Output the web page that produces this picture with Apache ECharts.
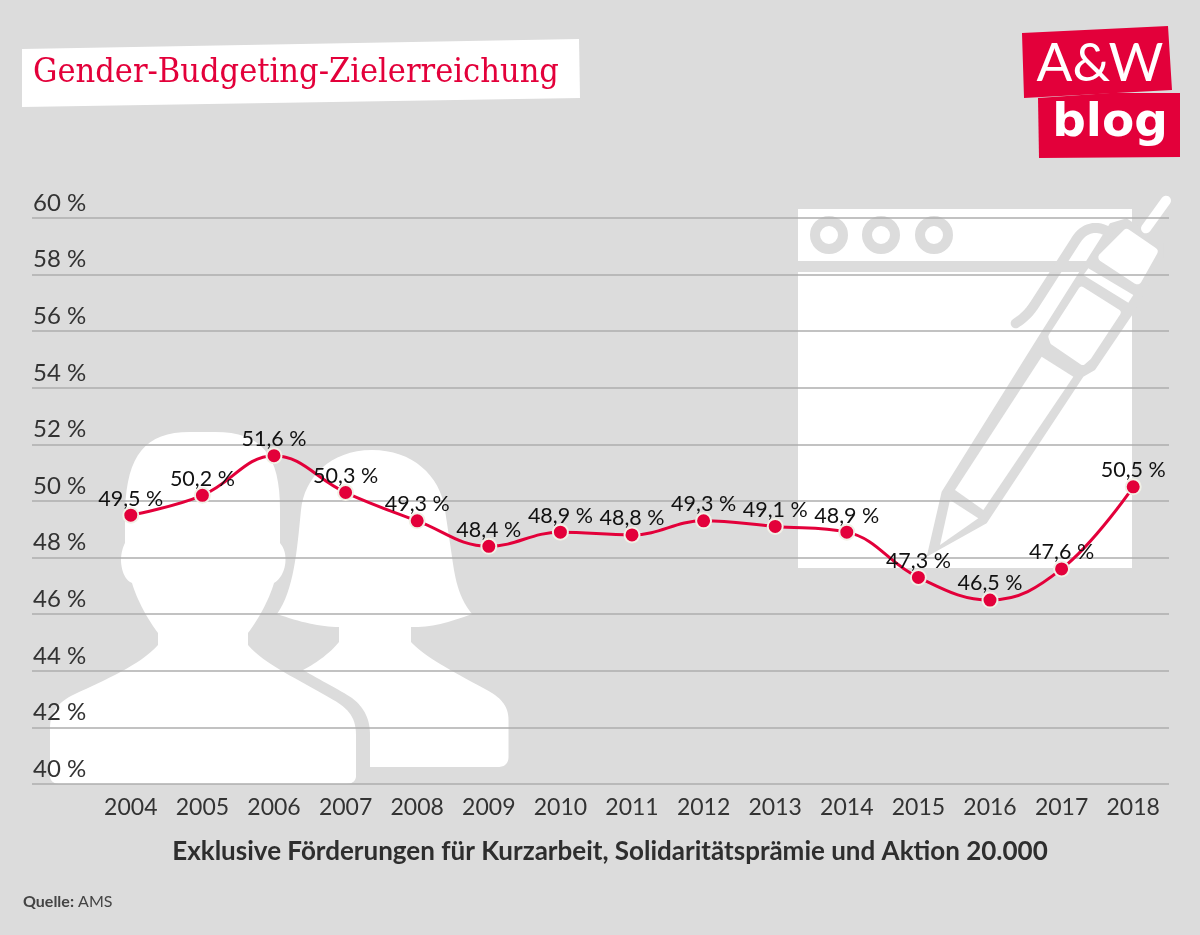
<!DOCTYPE html>
<html>
<head>
<meta charset="utf-8">
<title>Gender-Budgeting-Zielerreichung</title>
<style>
  html, body { margin: 0; padding: 0; background: #dcdcdc; }
  #chart { width: 1200px; height: 935px; }
</style>
<script src="https://cdn.jsdelivr.net/npm/echarts@6/dist/echarts.min.js"></script>
</head>
<body>
<div id="chart"></div>
<script>
const years = ['2004', '2005', '2006', '2007', '2008', '2009', '2010', '2011', '2012', '2013', '2014', '2015', '2016', '2017', '2018'];
const shares = [49.5, 50.2, 51.6, 50.3, 49.3, 48.4, 48.9, 48.8, 49.3, 49.1, 48.9, 47.3, 46.5, 47.6, 50.5];

const BG = '#dcdcdc';
const RED = '#e3003a';
const FONT = 'Lato, "Noto Sans", sans-serif';

// Pfad aus M/L/C in Punkte fuer ein Polygon aufloesen
const flatten = d => {
  const t = d.trim().split(/\s+/);
  const pts = [];
  let i = 0, cmd = 'M';
  while (i < t.length) {
    if (/[MLC]/.test(t[i])) cmd = t[i++];
    if (cmd === 'C') {
      const [x0, y0] = pts[pts.length - 1];
      const [x1, y1, x2, y2, x3, y3] = t.slice(i, i + 6).map(Number);
      i += 6;
      for (let s = 1; s <= 16; s++) {
        const u = s / 16, v = 1 - u;
        pts.push([
          v*v*v*x0 + 3*v*v*u*x1 + 3*v*u*u*x2 + u*u*u*x3,
          v*v*v*y0 + 3*v*v*u*y1 + 3*v*u*u*y2 + u*u*u*y3
        ]);
      }
    } else {
      pts.push([Number(t[i]), Number(t[i + 1])]);
      i += 2;
    }
  }
  return pts;
};

// Hintergrund-Icons, Koordinaten in Pixel
const male = flatten(`M 50 776 L 50 728 C 50 712 58 702 75 694 C 105 680 140 665 158 645 L 158 633
  C 148 620 137 600 132 583 C 124 580 121 568 121 560 C 121 553 123 547 125 543 L 125 510
  C 127 455 145 432 190 432 L 215 432 C 262 432 280 455 280 510 L 280 543 C 284 548 285.5 553 285.5 560
  C 285.5 570 280 580 274 583 C 269 600 258 620 248 633 L 248 645 C 265 665 300 680 330 698
  C 346 707 356 715 356 735 L 356 776 C 356 781 352 784 346 784 L 60 784 C 54 784 50 781 50 776`);
const female = flatten(`M 372 450 C 330 450 304 478 301 510 C 297 550 294 590 277 614 C 300 622 320 627 339 627
  L 339 642 C 330 653 318 662 303 670 C 320 680 340 690 352 698 C 365 708 370 720 370 735 L 370 767 L 498 767
  C 505 767 508.5 763 508.5 757 L 508.5 720 C 508.5 705 500 697 485 689 C 450 670 425 657 411 642 L 411 627
  C 430 628 450 622 472 614 C 456 595 454 570 451 550 L 445 510 C 440 475 412 450 372 450`);

// Stift im Ausschnitt-Massstab (3x) gezeichnet
const pen = [
  { type: 'polygon', shape: { points: [[440,1130],[485,935],[775,470],[990,130],[1040,115],[1150,190],[1150,235],[1060,400],[945,570],[910,590],[620,1030]] }, style: { fill: BG }, z: -1 },
  { type: 'polyline', shape: { points: flatten('M 707 430 C 735 412 750 395 765 372 L 885 185 C 905 150 940 130 985 155') }, style: { fill: null, stroke: BG, lineWidth: 30, lineCap: 'round' }, z: -1 },
  { type: 'line', shape: { x1: 1098, y1: 145, x2: 1158, y2: 62 }, style: { stroke: '#fff', lineWidth: 30, lineCap: 'round' }, z: -1 },
  { type: 'polygon', shape: { points: [[1040,160],[1120,215],[1072,300],[968,232]] }, style: { fill: '#fff', stroke: '#fff', lineWidth: 26, lineJoin: 'round' }, z: -1 },
  { type: 'polygon', shape: { points: [[925,265],[1060,345],[1045,368],[910,285]] }, style: { fill: '#fff' }, z: -1 },
  { type: 'polygon', shape: { points: [[905,330],[1012,398],[925,530],[908,545],[820,485],[815,470]] }, style: { fill: '#fff', stroke: '#fff', lineWidth: 20, lineJoin: 'round' }, z: -1 },
  { type: 'polygon', shape: { points: [[785,530],[880,590],[610,990],[525,930]] }, style: { fill: '#fff' }, z: -1 },
  { type: 'polygon', shape: { points: [[510,960],[595,1015],[480,1095]] }, style: { fill: '#fff' }, z: -1 }
];

const option = {
  backgroundColor: BG,
  animation: false,
  title: {
    text: 'Gender-Budgeting-Zielerreichung',
    left: 28,
    top: 51,
    textStyle: { color: RED, fontFamily: '"DejaVu Serif Condensed", "DejaVu Serif", serif', fontWeight: 'normal', fontSize: 34 }
  },
  // erstes Grid nur fuer die langen Linien und y-Beschriftung, zweites fuer die Daten
  grid: [
    { left: 32, right: 31, top: 218, bottom: 151 },
    { left: 95, right: 31, top: 218, bottom: 151 }
  ],
  xAxis: [
    { gridIndex: 0, type: 'category', data: years, show: false },
    {
      gridIndex: 1,
      type: 'category',
      data: years,
      axisLine: { show: false },
      axisTick: { show: false },
      axisLabel: { color: '#333', fontFamily: FONT, fontSize: 23, margin: 12 },
      name: 'Exklusive Förderungen für Kurzarbeit, Solidaritätsprämie und Aktion 20.000',
      nameLocation: 'middle',
      nameGap: 55,
      nameTextStyle: { color: '#2e2e2e', fontFamily: FONT, fontWeight: 'bold', fontSize: 26, padding: [0, 44, 0, 0] }
    }
  ],
  yAxis: [
    {
      gridIndex: 0,
      type: 'value',
      min: 40,
      max: 60,
      interval: 2,
      axisLine: { show: false },
      axisTick: { show: false },
      splitLine: { lineStyle: { color: '#aeaeae', width: 1.5 } },
      axisLabel: {
        inside: true,
        margin: 1,
        verticalAlign: 'bottom',
        padding: [0, 0, 3, 0],
        color: '#333',
        fontFamily: FONT,
        fontSize: 24,
        formatter: v => v + ' %'
      }
    },
    { gridIndex: 1, type: 'value', min: 40, max: 60, interval: 2, show: false }
  ],
  series: [
    {
      type: 'line',
      xAxisIndex: 1,
      yAxisIndex: 1,
      data: shares,
      smooth: 0.4,
      symbol: 'circle',
      symbolSize: 15,
      lineStyle: { color: RED, width: 3 },
      itemStyle: { color: RED, borderColor: '#f1f0e6', borderWidth: 2 },
      label: {
        show: true,
        position: 'top',
        distance: -3,
        color: '#111',
        fontFamily: FONT,
        fontSize: 21.5,
        formatter: p => p.value.toFixed(1).replace('.', ',') + ' %'
      }
    }
  ],
  graphic: [
    // Titelbalken
    { type: 'polygon', z: -1, shape: { points: [[22,49],[579,39],[580,98],[22,107]] }, style: { fill: '#fff' } },
    // Logo
    { type: 'polygon', shape: { points: [[1022,33],[1168,26],[1172,90],[1024,98]] }, style: { fill: RED } },
    { type: 'polygon', shape: { points: [[1038,98],[1110,93],[1180,93],[1180,157],[1039,158]] }, style: { fill: RED } },
    { type: 'text', x: 1100, y: 64, z: 3, style: { text: 'A&W', x: 0, y: 0, align: 'center', verticalAlign: 'middle', fill: '#fff', font: '400 53px ' + FONT } },
    { type: 'text', x: 1110, y: 124, z: 3, style: { text: 'blog', x: 0, y: 0, align: 'center', verticalAlign: 'middle', fill: '#fff', font: 'bold 47px "DejaVu Sans", sans-serif' } },
    // Personen
    { type: 'polygon', z: -1, shape: { points: male }, style: { fill: '#fff' } },
    { type: 'polygon', z: -1, shape: { points: female }, style: { fill: '#fff' } },
    // Fenster
    { type: 'rect', z: -1, shape: { x: 798, y: 209, width: 334, height: 359 }, style: { fill: '#fff' } },
    { type: 'rect', z: -1, shape: { x: 798, y: 261, width: 300, height: 11 }, style: { fill: BG } },
    { type: 'circle', z: -1, shape: { cx: 829, cy: 235, r: 14 }, style: { fill: '#fff', stroke: BG, lineWidth: 10 } },
    { type: 'circle', z: -1, shape: { cx: 881, cy: 235, r: 14 }, style: { fill: '#fff', stroke: BG, lineWidth: 10 } },
    { type: 'circle', z: -1, shape: { cx: 934, cy: 235, r: 14 }, style: { fill: '#fff', stroke: BG, lineWidth: 10 } },
    { type: 'group', x: 780, y: 180, scaleX: 1 / 3, scaleY: 1 / 3, children: pen },
    // Quelle
    { type: 'text', x: 23, y: 902, style: { text: '{b|Quelle:} AMS', x: 0, y: 0, verticalAlign: 'middle', fill: '#444', font: '16px ' + FONT, rich: { b: { fontWeight: 'bold', fontFamily: 'Lato', fontSize: 16, fill: '#444' } } } }
  ]
};

const chart = echarts.init(document.querySelector('#chart'));
chart.setOption(option);
window.addEventListener('resize', () => chart.resize());
</script>
</body>
</html>
